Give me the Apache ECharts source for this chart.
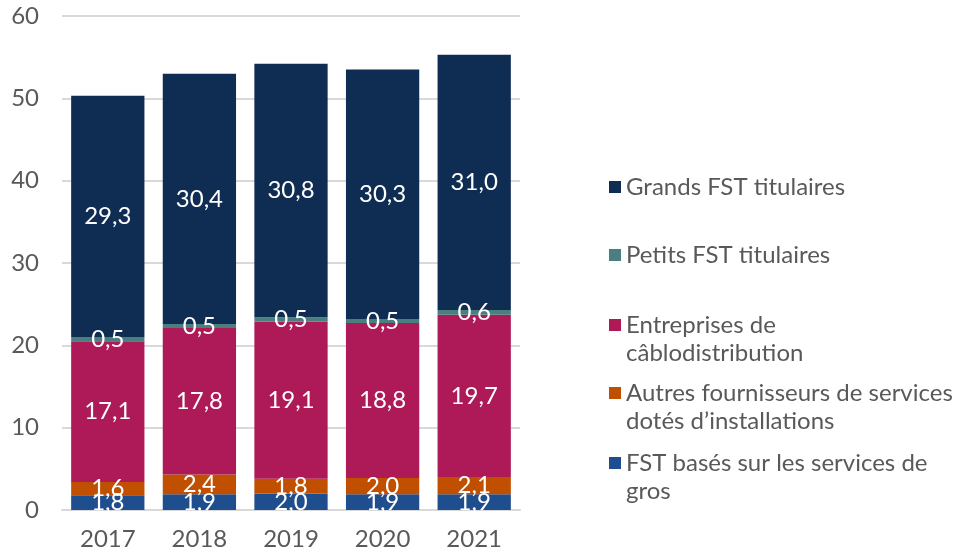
<!DOCTYPE html>
<html>
<head>
<meta charset="utf-8">
<script src="https://cdn.jsdelivr.net/npm/echarts@6/dist/echarts.min.js"></script>
<style>
html,body{margin:0;padding:0;background:#fff;}
#chart{width:956px;height:556px;}
</style>
</head>
<body>
<div id="chart"></div>
<script>
const categories = ['2017', '2018', '2019', '2020', '2021'];
const seriesNames = [
  'FST basés sur les services de gros',
  'Autres fournisseurs de services dotés d’installations',
  'Entreprises de câblodistribution',
  'Petits FST titulaires',
  'Grands FST titulaires'
];
const legendLabels = [
  'FST basés sur les services de\ngros',
  'Autres fournisseurs de services\ndotés d’installations',
  'Entreprises de\ncâblodistribution',
  'Petits FST titulaires',
  'Grands FST titulaires'
];
const wholesale = [1.8, 1.9, 2.0, 1.9, 1.9];
const otherFacilities = [1.6, 2.4, 1.8, 2.0, 2.1];
const cable = [17.1, 17.8, 19.1, 18.8, 19.7];
const smallIncumbents = [0.5, 0.5, 0.5, 0.5, 0.6];
const largeIncumbents = [29.3, 30.4, 30.8, 30.3, 31.0];
const yTicks = [0, 10, 20, 30, 40, 50, 60];

const values = [wholesale, otherFacilities, cable, smallIncumbents, largeIncumbents];
const colors = ['#1F4E8F', '#C04F00', '#AD1A57', '#4A7F7F', '#0F2D52'];
const FONT = 'Lato';
const textGray = '#595959';
const FS = 24;

const chart = echarts.init(document.getElementById('chart'));

const series = values.map((v, i) => ({
  name: seriesNames[i],
  type: 'bar',
  stack: 'total',
  barCategoryGap: '20%',
  data: v,
  itemStyle: { color: colors[i] },
  label: {
    show: true,
    position: 'inside',
    color: '#fff',
    fontFamily: FONT,
    fontSize: FS,
    formatter: p => p.value.toFixed(1).replace('.', ',')
  },
  emphasis: { disabled: true }
}));

// legend icon centre y
const legendCenters = [463, 393, 325, 255, 187];
const LH = 28;
const legends = seriesNames.map((n, i) => {
  const twoLine = legendLabels[i].indexOf('\n') >= 0;
  return {
    data: [n],
    left: 609,
    top: twoLine ? legendCenters[i] - 1.5 * LH : legendCenters[i] - 0.5 * LH,
    padding: 0,
    orient: 'vertical',
    icon: 'rect',
    itemWidth: 12,
    itemHeight: 12,
    selectedMode: false,
    // a blank line above keeps the icon aligned with the first text line
    formatter: () => (twoLine ? ' \n' : '') + legendLabels[i],
    textStyle: {
      fontFamily: FONT,
      fontSize: FS,
      color: textGray,
      lineHeight: LH
    }
  };
});

chart.setOption({
  animation: false,
  textStyle: { fontFamily: FONT },
  legend: legends,
  grid: { left: 62, right: 436, top: 16, bottom: 46, containLabel: false },
  xAxis: {
    type: 'category',
    data: categories,
    axisLine: { show: true, lineStyle: { color: '#D9D9D9', width: 2 } },
    axisTick: { show: false },
    axisLabel: { color: textGray, fontFamily: FONT, fontSize: FS, margin: 17 }
  },
  yAxis: {
    type: 'value',
    min: yTicks[0],
    max: yTicks[yTicks.length - 1],
    interval: 10,
    axisLine: { show: false },
    axisTick: { show: false },
    axisLabel: { color: textGray, fontFamily: FONT, fontSize: FS, margin: 23 },
    splitLine: { lineStyle: { color: '#D9D9D9', width: 2 } }
  },
  series: series
});
</script>
</body>
</html>
